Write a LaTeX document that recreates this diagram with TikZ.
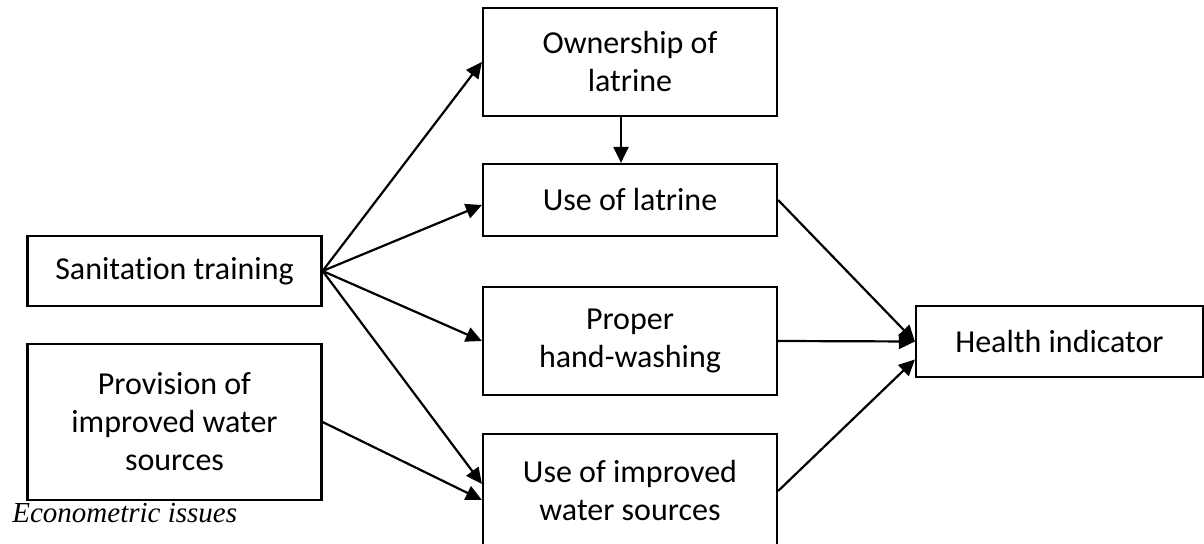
\documentclass[tikz,border=0pt]{standalone}
\usepackage{fontspec}
\setmainfont{Carlito}[Ligatures={NoCommon}]
\newfontfamily\timesit{Liberation Serif}
\usetikzlibrary{arrows.meta}
\begin{document}
\begin{tikzpicture}[x=0.5pt,y=-0.5pt]
        \tikzset{box/.style={draw,line width=1.1pt,align=center,minimum width=147pt,font=\fontsize{16}{19}\selectfont},
                 link/.style={line width=1.1pt,-{Triangle[length=8pt,width=7.5pt]}}};
        \useasboundingbox (0,0) rectangle (1204,544);
        \node[box,minimum height=35pt] (san) at (174.5,271) {Sanitation training};
        \node[box,minimum height=78pt] (prov) at (174.5,422) {Provision of\\improved water\\sources};
        \node[box,minimum height=54pt] (own) at (630,62) {Ownership of\\latrine};
        \node[box,minimum height=36pt] (use) at (630,200) {Use of latrine};
        \node[box,minimum height=54pt] (hand) at (630,341) {Proper\\hand-washing};
        \node[box,minimum height=57pt] (water) at (630,491) {Use of improved\\water sources};
        \node[box,minimum width=143.5pt,minimum height=35.5pt] (health) at (1059.5,341.5) {Health indicator};
        \node[anchor=west,inner sep=0pt,font=\timesit\itshape\fontsize{14.5}{17}\selectfont] (econ) at (12,513) {Econometric issues};
        \draw[link] (san.east) -- (own.west);
        \draw[link] (san.east) -- ([yshift=-2.5pt]use.west);
        \draw[link] (san.east) -- (hand.west);
        \draw[link] (san.east) -- ([yshift=3.5pt]water.west);
        \draw[link] (prov.east) -- ([yshift=-4.5pt]water.west);
        \draw[link] ([xshift=-4.5pt]own.south) -- ([xshift=-4.5pt]use.north);
        \draw[link] (use.east) -- (health.west);
        \draw[link] (hand.east) -- (health.west);
        \draw[link] (water.east) -- ([yshift=-9pt]health.west);
    \end{tikzpicture}
\end{document}
